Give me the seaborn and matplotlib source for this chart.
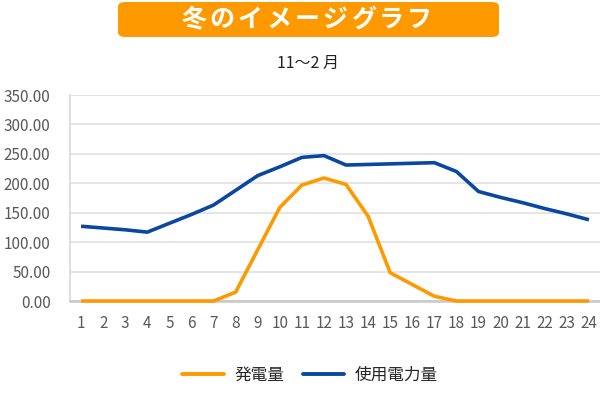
import pandas as pd
import seaborn as sns
import matplotlib.pyplot as plt
from matplotlib.patches import FancyBboxPatch

# Hours of the day
hours = list(range(1, 25))

# Generated power (発電量)
generation = [0, 0, 0, 0, 0, 0, 0, 15, 87, 159, 197, 209, 198, 144, 48, 28, 8, 0,
              0, 0, 0, 0, 0, 0]

# Power consumption (使用電力量)
consumption = [127, 124, 121, 117, 132, 147, 163, 188, 213, 228, 244, 247, 231, 232,
               233, 234, 235, 220, 186, 176, 167, 157, 148, 138]

series_names = ['発電量', '使用電力量']
series_colors = ['#FF9900', '#0A47A3']

title_text = '冬のイメージグラフ'
subtitle_text = '11〜2 月'
y_ticks = [0, 50, 100, 150, 200, 250, 300, 350]


def main():
    df = pd.DataFrame({
        'hour': hours * 2,
        'value': generation + consumption,
        'series': [series_names[0]] * len(hours) + [series_names[1]] * len(hours),
    })

    sns.set_theme(style='whitegrid')
    plt.rcParams['font.family'] = ['Noto Sans CJK JP', 'DejaVu Sans']

    fig = plt.figure(figsize=(6, 3.98), dpi=100)
    ax = fig.add_axes([70 / 600, 1 - 301 / 398, 530 / 600, 206 / 398])

    sns.lineplot(data=df, x='hour', y='value', hue='series',
                 palette=dict(zip(series_names, series_colors)),
                 linewidth=2.6, ax=ax, legend=False)
    for line in ax.lines:
        line.set_zorder(3)
        line.set_clip_on(False)
        line.set_solid_capstyle('butt')

    ax.set_xlim(0.5, 24.5)
    ax.set_ylim(0, 350)
    ax.set_xticks(hours)
    ax.set_yticks(y_ticks)
    ax.set_yticklabels([f'{v:.2f}' for v in y_ticks])
    ax.set_xlabel('')
    ax.set_ylabel('')
    ax.tick_params(axis='both', labelsize=11, colors='#595959', length=0)
    ax.tick_params(axis='x', pad=10)
    ax.tick_params(axis='y', pad=14)
    ax.grid(axis='x', visible=False)
    ax.grid(axis='y', color='#e0e0e0', linewidth=1.2)
    for side in ['top', 'right']:
        ax.spines[side].set_visible(False)
    ax.spines['left'].set_color('#d9d9d9')
    ax.spines['left'].set_linewidth(1.2)
    ax.spines['bottom'].set_color('#c8c8c8')
    ax.spines['bottom'].set_linewidth(1.8)

    # Title banner
    box = FancyBboxPatch((118 / 600, 1 - 37 / 398), 381 / 600, 35 / 398,
                         boxstyle='round,pad=0,rounding_size=0.012',
                         transform=fig.transFigure, facecolor='#FF9900',
                         edgecolor='none')
    fig.patches.append(box)
    # spaced-out title letters
    for i, ch in enumerate(title_text):
        fig.text((194 + i * 28.2) / 600, 1 - 20 / 398, ch, ha='center', va='center',
                 color='white', fontsize=18, fontweight='bold')
    fig.text(308 / 600, 1 - 63 / 398, subtitle_text, ha='center', va='center',
             color='#222222', fontsize=11.5)

    # Legend
    handles = [plt.Line2D([], [], color=c, linewidth=2.8) for c in series_colors]
    fig.legend(handles, series_names, loc='center', bbox_to_anchor=(310 / 600, 1 - 375 / 398),
               ncol=2, frameon=False, fontsize=12, handlelength=2.5,
               columnspacing=1.1, handletextpad=0.65)

    fig.savefig('out.png', dpi=100)
    plt.close(fig)


if __name__ == '__main__':
    main()
